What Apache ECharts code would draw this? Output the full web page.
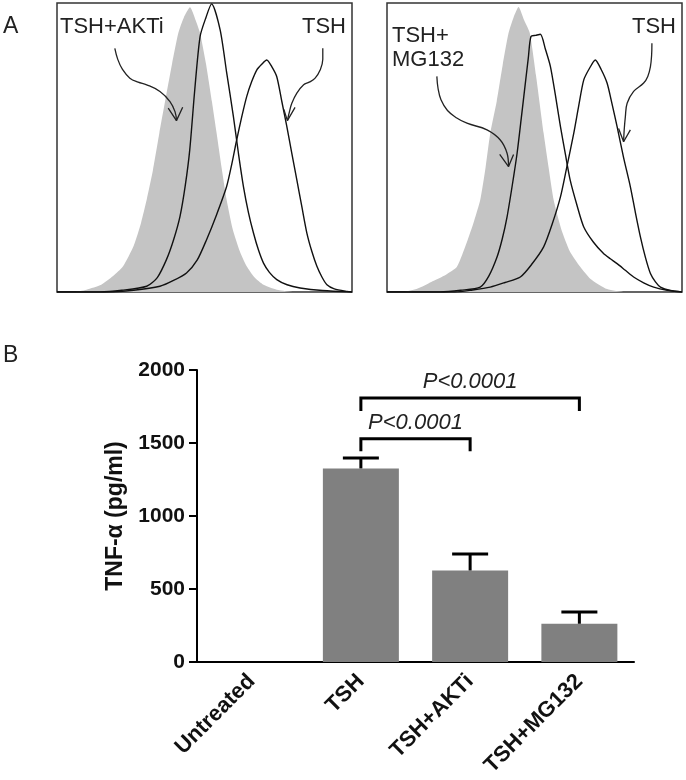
<!DOCTYPE html>
<html>
<head>
<meta charset="utf-8">
<script src="https://cdn.jsdelivr.net/npm/echarts@6/dist/echarts.min.js"></script>
<style>html,body{margin:0;padding:0;background:#fff}#c{width:686px;height:780px}</style>
</head>
<body>
<div id="c"></div>
<script>
// ---------- Panel A data (x: fluorescence 0-100, y: % of max 0-100) ----------
var grayA1 = [[6,0],[10,0.8],[15,2.5],[19,5.5],[22.4,8.9],[26,16],[28.5,24],[30.4,31.9],[32.5,42],[34.7,55],[37,68],[39,79],[41.1,89.5],[43,95],[45.1,98.5],[47,94],[48.5,89.5],[50.5,79],[52.5,66],[54.1,55],[55.8,43],[57.5,31.9],[59.5,22],[62,14],[64.3,8.9],[67,5],[70,2.5],[74.5,0.8],[80,0]];
var lineA1a = [[0,0],[14.5,0],[22,0.6],[30.4,2],[34,5],[37.1,11.2],[39.5,18],[41.7,26.2],[43.5,37],[45,49.2],[46.7,70],[48.5,88.4],[50.5,95],[52.4,99.7],[55.3,90.7],[57.5,76],[59.8,60.7],[61.5,48],[63.2,36.5],[64.9,27.5],[66.6,20.4],[68.3,14.5],[70,10],[72,6.8],[74.5,4.3],[78,2.5],[82.4,1.4],[90,0.5],[100,0]];
var lineA1b = [[0,0],[17,0],[26,0.6],[34.9,2],[39.5,4],[43.9,6.6],[47.5,11],[50.7,18.1],[54,26.5],[57.5,36.5],[59.3,44.5],[60.9,52.6],[62.6,60.5],[64.3,67.6],[66,72.8],[67.7,76.8],[69.4,78.8],[71.1,80.3],[72.8,78],[74.5,74.5],[76.2,66],[77.9,57.3],[79.6,48],[81.3,38.8],[83,29.5],[84.7,20.4],[86.4,14],[88.1,8.9],[89.8,5.2],[91.5,2.5],[94,1.1],[98.3,0.2],[100,0]];
var grayA2 = [[6,0],[10.4,1.2],[15,3.5],[20,6],[23.7,8.7],[27,17],[29.5,24.5],[31.6,31.8],[33.4,43],[35,54.9],[37.2,66],[39.2,78.5],[41.2,89.6],[42.9,95],[44.6,98.6],[46.5,94],[48.4,89.6],[50.5,75],[53.1,54.9],[54.8,43],[56.5,31.8],[59,22],[62,14],[65.5,8.7],[69,4.5],[74.6,1],[80,0]];
var lineA2a = [[0,0],[18,0],[25,0.6],[31.6,1.7],[34.5,5.5],[37.3,12.1],[39.1,18.5],[40.7,26],[42.4,36.5],[44.1,48],[45.5,60],[46.9,72.3],[47.9,81],[48.8,88.4],[50.4,88.8],[52,89.2],[53.7,84],[55.4,78],[57.1,68],[58.8,57.2],[60.5,47.5],[62.1,38.7],[64.4,30],[66.7,22.5],[70,17.2],[73.4,13.3],[75.7,11.5],[78,9.8],[80.8,7.5],[83.6,5.2],[87,3.2],[90.4,1.7],[95,0.6],[100,0]];
var lineA2b = [[0,0],[23,0],[29,0.7],[35,1.7],[40,3.3],[45.2,5.2],[49,9.5],[53.1,15.6],[56,23.5],[58.8,32.9],[61,43.5],[63.3,54.9],[65,64.5],[66.7,73.4],[68.7,77.5],[70.6,80.3],[72.6,77],[74.6,72.3],[76.3,65],[78,57.2],[80.2,46.5],[82.5,36.4],[84.2,27.5],[85.9,19.1],[87.6,12],[89.3,6.4],[91,3.5],[92.7,1.7],[96,0.5],[100,0]];
// annotation arrows (data coordinates of each panel)
var arrowA1a = [[19.6,84.3],[20.6,80.5],[22.2,77],[24.7,74.0],[27.5,72.6],[30.4,71.7],[34.9,69.4],[38.3,65.9],[40.0,62.4],[40.5,59.3]];
var headA1a = [[37.7,63.6],[40.5,59.3],[42.6,63.9]];
var arrowA1b = [[90.1,84.3],[90.1,80.5],[89.2,76.8],[87.5,74.0],[85.5,72.6],[83.6,71.7],[81.3,68.8],[79.6,65.3],[78.8,62.4],[78.1,59.3]];
var headA1b = [[76.9,63.2],[78.1,59.3],[80.7,63.9]];
var arrowA2a = [[16.9,74.6],[17.3,70.5],[18.3,66.5],[20.5,62.8],[23.5,60.3],[27.1,58.4],[33.9,56.1],[38.4,52.6],[40.7,48],[41.2,43.4]];
var headA2a = [[38.2,47.6],[41.2,43.4],[42.9,47.6]];
var arrowA2b = [[89.8,86.1],[89.7,82],[89.3,78],[88.4,74.6],[87,72.3],[83.6,69.4],[81.4,65.3],[80.8,60.7],[80.4,56],[80.2,52]];
var headA2b = [[78.5,56.6],[80.2,52],[82.5,56.1]];
var labelsA1 = ['TSH+AKTi', 'TSH'];
var labelsA2 = ['TSH+\nMG132', 'TSH'];

// ---------- Panel B data ----------
var categories = ['Untreated', 'TSH', 'TSH+AKTi', 'TSH+MG132'];
var tnfMean = [0, 1326, 627, 262];
var tnfErrTop = [0, 1397, 740, 342];
var yTicks = [0, 500, 1000, 1500, 2000];
var bracketFrom = [1, 1];
var bracketTo = [2, 3];
var bracketY = [1529, 1808];
var bracketLegEnd = [1444, 1719];
var bracketText = ['P<0.0001', 'P<0.0001'];

var FONT = 'Liberation Sans, Arial, sans-serif';
var chart = echarts.init(document.getElementById('c'), null, {renderer: 'canvas'});

function lineS(grid, data, opts) {
  var s = {type: 'line', xAxisIndex: grid, yAxisIndex: grid, data: data, symbol: 'none', silent: true,
    smooth: 0.25, lineStyle: {color: '#111', width: 1.4}, z: 5, animation: false};
  for (var k in opts) s[k] = opts[k];
  return s;
}
function grayS(grid, data) {
  return lineS(grid, data, {lineStyle: {width: 0}, areaStyle: {color: '#c4c4c4', opacity: 1}, z: 2,
    smooth: 0.2});
}
var arrowStyle = {color: '#222', width: 1.3};

var bracketData = bracketY.map(function (y, i) {
  return [bracketFrom[i], bracketTo[i], y, bracketLegEnd[i]];
});
var errData = tnfMean.map(function (m, i) { return [i, m, tnfErrTop[i]]; });

var option = {
  backgroundColor: '#fff',
  animation: false,
  textStyle: {fontFamily: FONT},
  grid: [
    {left: 57, top: 3, width: 295, height: 289, show: true, borderColor: '#333', borderWidth: 1.5},
    {left: 387, top: 3, width: 295, height: 289, show: true, borderColor: '#333', borderWidth: 1.5},
    {left: 197, top: 370, width: 437, height: 292}
  ],
  xAxis: [
    {gridIndex: 0, type: 'value', min: 0, max: 100, show: false},
    {gridIndex: 1, type: 'value', min: 0, max: 100, show: false},
    {gridIndex: 2, type: 'category', data: categories, boundaryGap: true,
      axisLine: {lineStyle: {color: '#000', width: 2}},
      axisTick: {alignWithLabel: true, length: 8, lineStyle: {color: '#000', width: 2}},
      axisLabel: {rotate: 45, fontWeight: 'bold', fontSize: 22, color: '#111', margin: 16, fontFamily: FONT}}
  ],
  yAxis: [
    {gridIndex: 0, type: 'value', min: 0, max: 100, show: false},
    {gridIndex: 1, type: 'value', min: 0, max: 100, show: false},
    {gridIndex: 2, type: 'value', min: 0, max: 2000, interval: 500,
      name: 'TNF-\u03b1 (pg/ml)', nameLocation: 'middle', nameGap: 68, nameRotate: 90,
      nameTextStyle: {fontWeight: 'bold', fontSize: 23, color: '#111', fontFamily: FONT},
      axisLine: {show: true, lineStyle: {color: '#000', width: 2}},
      axisTick: {show: true, length: 8, lineStyle: {color: '#000', width: 2}},
      splitLine: {show: false},
      axisLabel: {fontWeight: 'bold', fontSize: 21, color: '#111', margin: 12, fontFamily: FONT,
        formatter: function (v) { return yTicks.indexOf(v) >= 0 ? String(v) : ''; }}}
  ],
  series: [
    grayS(0, grayA1), lineS(0, lineA1a), lineS(0, lineA1b),
    lineS(0, arrowA1a, {smooth: 0.4, lineStyle: arrowStyle}),
    lineS(0, headA1a, {smooth: false, lineStyle: arrowStyle}),
    lineS(0, arrowA1b, {smooth: 0.4, lineStyle: arrowStyle}),
    lineS(0, headA1b, {smooth: false, lineStyle: arrowStyle}),
    grayS(1, grayA2), lineS(1, lineA2a), lineS(1, lineA2b),
    lineS(1, arrowA2a, {smooth: 0.4, lineStyle: arrowStyle}),
    lineS(1, headA2a, {smooth: false, lineStyle: arrowStyle}),
    lineS(1, arrowA2b, {smooth: 0.4, lineStyle: arrowStyle}),
    lineS(1, headA2b, {smooth: false, lineStyle: arrowStyle}),
    {type: 'bar', xAxisIndex: 2, yAxisIndex: 2, data: tnfMean, barWidth: 76,
      itemStyle: {color: '#808080'}, silent: true, z: 3},
    {type: 'custom', xAxisIndex: 2, yAxisIndex: 2, data: errData, silent: true, z: 4,
      renderItem: function (params, api) {
        var i = api.value(0);
        if (api.value(2) <= api.value(1)) return null;
        var base = api.coord([i, api.value(1)]);
        var top = api.coord([i, api.value(2)]);
        var hw = 18;
        return {type: 'group', children: [
          {type: 'line', shape: {x1: base[0], y1: base[1], x2: top[0], y2: top[1]}, style: {stroke: '#000', lineWidth: 3}},
          {type: 'line', shape: {x1: top[0] - hw, y1: top[1], x2: top[0] + hw, y2: top[1]}, style: {stroke: '#000', lineWidth: 3}}
        ]};
      }},
    {type: 'custom', xAxisIndex: 2, yAxisIndex: 2, data: bracketData, silent: true, z: 6,
      renderItem: function (params, api) {
        var a = api.coord([api.value(0), api.value(2)]);
        var b = api.coord([api.value(1), api.value(2)]);
        var legA = api.coord([api.value(0), api.value(3)]);
        return {type: 'group', children: [
          {type: 'polyline', shape: {points: [[a[0], legA[1]], a, b, [b[0], legA[1]]]},
            style: {stroke: '#000', lineWidth: 3, fill: null}},
          {type: 'text', style: {text: bracketText[params.dataIndex], x: (a[0] + b[0]) / 2, y: a[1] - 5,
            align: 'center', verticalAlign: 'bottom', fontSize: 22, fontStyle: 'italic',
            fontFamily: FONT, fill: '#222'}}
        ]};
      }}
  ],
  graphic: [
    {type: 'text', left: 3, top: 15, style: {text: 'A', fontSize: 23, fill: '#222', fontFamily: FONT}},
    {type: 'text', left: 3, top: 344, style: {text: 'B', fontSize: 23, fill: '#222', fontFamily: FONT}},
    {type: 'text', left: 60, top: 16, style: {text: labelsA1[0], fontSize: 22, fill: '#222', fontFamily: FONT}},
    {type: 'text', left: 302, top: 16, style: {text: labelsA1[1], fontSize: 22, fill: '#222', fontFamily: FONT}},
    {type: 'text', left: 392, top: 24, style: {text: labelsA2[0], fontSize: 22, lineHeight: 24, fill: '#222', fontFamily: FONT}},
    {type: 'text', left: 632, top: 16, style: {text: labelsA2[1], fontSize: 22, fill: '#222', fontFamily: FONT}}
  ]
};
chart.setOption(option);
</script>
</body>
</html>
